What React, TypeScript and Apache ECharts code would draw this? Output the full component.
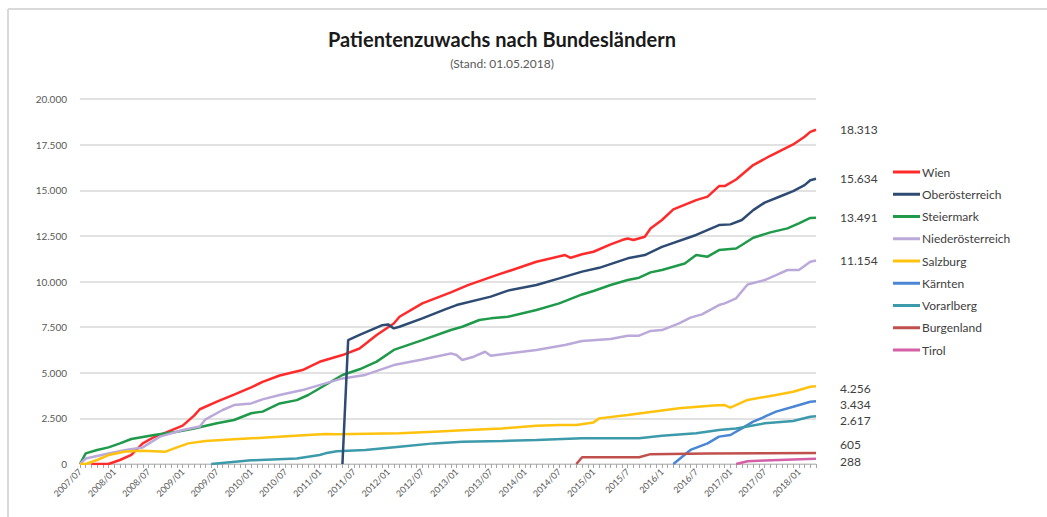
import React, { useEffect, useRef } from "react";
import * as echarts from "echarts";

// month index: 0 = 2007/07, 129 = 2018/04
const tickLabels = [
  "2007/07", "2008/01", "2008/07", "2009/01", "2009/07", "2010/01", "2010/07",
  "2011/01", "2011/07", "2012/01", "2012/07", "2013/01", "2013/07", "2014/01",
  "2014/07", "2015/01", "2015/7", "2016/1", "2016/7", "2017/01", "2017/07", "2018/01",
];
const lastMonth = 129;

const seriesNames = [
  "Wien", "Oberösterreich", "Steiermark", "Niederösterreich", "Salzburg",
  "Kärnten", "Vorarlberg", "Burgenland", "Tirol",
];
const seriesColors = [
  "#FF2A2A", "#2E4B73", "#1F9A4A", "#BBA9DA", "#FFC20E",
  "#4A86D4", "#3C9AAB", "#C0504D", "#D45FA5",
];

const wien = [
  [2, 0], [5, 0], [7, 220], [9, 500], [11, 1130], [13, 1480], [15, 1720], [18, 2100],
  [20, 2650], [21, 3000], [24, 3420], [27, 3800], [30, 4200], [32, 4500], [35, 4850],
  [39, 5150], [42, 5600], [46, 5970], [49, 6330], [52, 7070], [55, 7700], [56, 8070],
  [60, 8800], [65, 9400], [68, 9800], [73, 10350], [76, 10660], [80, 11080], [85, 11450],
  [86, 11300], [88, 11490], [90, 11630], [93, 12030], [95, 12270], [96, 12360], [97, 12270],
  [99, 12450], [100, 12900], [102, 13370], [104, 13950], [108, 14460], [110, 14650],
  [112, 15230], [113, 15230], [115, 15590], [118, 16380], [121, 16890], [123, 17200],
  [125, 17510], [127, 17930], [128, 18200], [129, 18313],
];
const oberoesterreich = [
  [46, 0], [47, 6790], [49, 7070], [53, 7610], [54, 7650], [55, 7430], [56, 7520],
  [60, 7980], [64, 8470], [66, 8710], [72, 9170], [75, 9500], [80, 9810], [84, 10170],
  [88, 10540], [91, 10750], [96, 11270], [99, 11450], [102, 11900], [108, 12550],
  [112, 13090], [114, 13130], [116, 13370], [118, 13910], [120, 14320], [123, 14700],
  [125, 14950], [127, 15280], [128, 15550], [129, 15634],
];
const steiermark = [
  [0, 0], [1, 584], [3, 770], [5, 910], [7, 1130], [9, 1370], [13, 1590], [17, 1770],
  [20, 1950], [24, 2230], [27, 2410], [30, 2780], [32, 2870], [35, 3320], [38, 3500],
  [40, 3780], [43, 4330], [46, 4875], [49, 5190], [52, 5610], [55, 6250], [60, 6790],
  [65, 7340], [67, 7520], [70, 7890], [72, 7980], [75, 8070], [80, 8440], [84, 8800],
  [88, 9290], [90, 9480], [93, 9810], [96, 10080], [98, 10210], [100, 10500], [102, 10630],
  [106, 10990], [108, 11450], [110, 11360], [112, 11720], [115, 11810], [116, 12000],
  [118, 12400], [121, 12690], [124, 12910], [126, 13180], [128, 13480], [129, 13491],
];
const niederoesterreich = [
  [0, 0], [1, 300], [2, 370], [5, 580], [8, 770], [11, 910], [14, 1500], [18, 1860],
  [21, 2050], [22, 2450], [25, 2960], [27, 3230], [30, 3320], [32, 3540], [35, 3780],
  [39, 4050], [43, 4420], [46, 4690], [50, 4880], [55, 5420], [60, 5730], [65, 6060],
  [66, 5970], [67, 5700], [69, 5880], [71, 6150], [72, 5930], [75, 6060], [80, 6250],
  [85, 6520], [88, 6740], [93, 6850], [96, 7030], [98, 7030], [100, 7290], [102, 7340],
  [105, 7710], [107, 8020], [109, 8200], [112, 8710], [113, 8800], [115, 9080],
  [117, 9840], [120, 10080], [122, 10350], [124, 10630], [126, 10630], [128, 11080],
  [129, 11154],
];
const salzburg = [
  [0, 0], [1, 0], [3, 220], [5, 490], [8, 680], [11, 730], [15, 675], [17, 910],
  [19, 1130], [22, 1260], [27, 1350], [32, 1440], [37, 1530], [43, 1640], [45, 1625],
  [56, 1680], [62, 1770], [68, 1860], [74, 1950], [80, 2100], [84, 2140], [87, 2140],
  [90, 2280], [91, 2500], [96, 2680], [99, 2810], [105, 3050], [111, 3200], [113, 3230],
  [114, 3090], [117, 3510], [122, 3780], [125, 3960], [128, 4236], [129, 4256],
];
const kaernten = [
  [104, 0], [107, 770], [110, 1130], [112, 1500], [114, 1590], [116, 1950], [118, 2320],
  [120, 2590], [122, 2870], [125, 3140], [128, 3415], [129, 3434],
];
const vorarlberg = [
  [23, 0], [30, 200], [38, 300], [40, 400], [42, 490], [43, 584], [45, 700], [50, 770],
  [56, 950], [62, 1130], [67, 1220], [74, 1260], [80, 1315], [88, 1410], [98, 1410],
  [102, 1550], [108, 1680], [112, 1860], [115, 1950], [120, 2230], [125, 2360],
  [128, 2590], [129, 2617],
];
const burgenland = [
  [87, 0], [88, 370], [98, 370], [100, 540], [110, 570], [120, 590], [129, 605],
];
const tirol = [[115, 0], [117, 150], [120, 190], [125, 250], [129, 288]];

const seriesData = [
  wien, oberoesterreich, steiermark, niederoesterreich, salzburg,
  kaernten, vorarlberg, burgenland, tirol,
];
const endLabelOffsets = [
  [0, 0], [0, 0], [0, 0], [0, 0], [0, 2], [0, 3], [0, 4], [0, -8], [0, 3],
];

const fmt = (n: number) => String(Math.round(n)).replace(/\B(?=(\d{3})+(?!\d))/g, ".");

const FONT = "Lato";

export default function App() {
  const ref = useRef<HTMLDivElement>(null);
  useEffect(() => {
    if (!ref.current) return;
    const chart = echarts.init(ref.current, undefined, { renderer: "svg" });
    chart.setOption({
      animation: false,
      backgroundColor: "#ffffff",
      title: {
        text: "Patientenzuwachs nach Bundesländern",
        subtext: "(Stand: 01.05.2018)",
        left: 497,
        top: 24,
        textAlign: "center",
        itemGap: 8,
        textStyle: { fontFamily: FONT, fontSize: 20, fontWeight: "bold", color: "#1a1a1a" },
        subtextStyle: { fontFamily: FONT, fontSize: 12, color: "#595959" },
      },
      graphic: [
        { type: "line", shape: { x1: 8, y1: 9, x2: 8, y2: 517 }, style: { stroke: "#d9d9d9", lineWidth: 2 } },
        { type: "line", shape: { x1: 8, y1: 9, x2: 1047, y2: 9 }, style: { stroke: "#d9d9d9", lineWidth: 2 } },
      ],
      legend: {
        orient: "vertical",
        left: 888,
        top: 160,
        itemWidth: 27,
        itemHeight: 3,
        itemGap: 8.25,
        icon: "rect",
        data: seriesNames,
        textStyle: { fontFamily: FONT, fontSize: 12, color: "#404040", lineHeight: 14, padding: [0, 0, 0, -3] },
      },
      grid: { left: 80, right: 231, top: 99, bottom: 53, containLabel: false },
      xAxis: {
        type: "value",
        min: 0,
        max: lastMonth,
        interval: 1,
        splitLine: { show: false },
        axisLine: { show: true, lineStyle: { color: "#bfbfbf", width: 1 } },
        axisTick: { show: true, length: 4, lineStyle: { color: "#a6a6a6" } },
        axisLabel: {
          rotate: 45,
          margin: 6,
          fontFamily: FONT,
          fontSize: 9,
          color: "#595959",
          formatter: (v: number) => (v % 6 === 0 && tickLabels[v / 6] ? tickLabels[v / 6] : ""),
        },
      },
      yAxis: {
        type: "value",
        min: 0,
        max: 20000,
        interval: 2500,
        axisLine: { show: false },
        axisTick: { show: false },
        splitLine: { lineStyle: { color: "#d9d9d9", width: 1.5 } },
        axisLabel: {
          margin: 13,
          fontFamily: FONT,
          fontSize: 10,
          color: "#595959",
          formatter: (v: number) => fmt(v),
        },
      },
      series: seriesNames.map((name, i) => ({
        name,
        type: "line",
        data: seriesData[i],
        showSymbol: false,
        symbol: "none",
        color: seriesColors[i],
        lineStyle: { width: 2.5, color: seriesColors[i] },
        z: i === 1 ? 3 : 2,
        endLabel: {
          show: true,
          distance: 24,
          offset: endLabelOffsets[i],
          fontFamily: FONT,
          fontSize: 12,
          lineHeight: 12,
          color: "#404040",
          formatter: (p: any) => fmt(p.value[1]),
        },
      })),
    });
    return () => chart.dispose();
  }, []);
  return (
    <div
      ref={ref}
      style={{ position: "absolute", left: 0, top: 0, width: 1047, height: 517 }}
    />
  );
}
